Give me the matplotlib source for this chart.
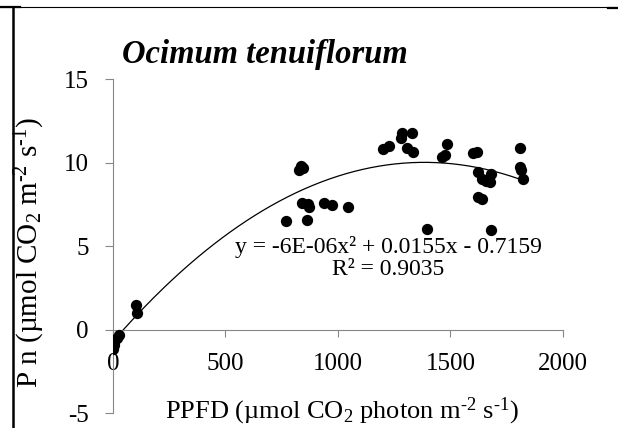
import matplotlib
matplotlib.use("Agg")
import matplotlib.pyplot as plt
import numpy as np
from matplotlib.lines import Line2D

plt.rcParams['font.family'] = ['Liberation Serif', 'DejaVu Serif']
plt.rcParams['mathtext.fontset'] = 'custom'
plt.rcParams['mathtext.rm'] = 'Liberation Serif'
plt.rcParams['mathtext.it'] = 'Liberation Serif:italic'
plt.rcParams['axes.unicode_minus'] = False

# PPFD vs net photosynthesis
ppfd = [0, 3, 5, 18, 25, 102, 105,
        825, 834, 845, 838, 868, 873, 938, 972, 1043, 771, 863,
        1200, 1227, 1283, 1330, 1282, 1305, 1332, 1394,
        1483, 1476, 1461, 1601, 1616, 1624, 1638, 1679, 1676, 1660,
        1624, 1638, 1809, 1809, 1813, 1821, 1680]
pn = [-1.15, -0.95, -0.75, -0.5, -0.35, 1.45, 1.0,
      9.55, 9.78, 9.65, 7.58, 7.54, 7.34, 7.6, 7.48, 7.34, 6.48, 6.54,
      10.8, 10.98, 11.74, 11.74, 11.45, 10.84, 10.64, 6.04,
      11.1, 10.44, 10.34, 10.54, 10.64, 9.44, 9.04, 9.34, 8.84, 8.9,
      7.94, 7.84, 10.84, 9.74, 9.54, 9.04, 5.94]

trend_coef = [-5.6e-06, 0.0155, -0.7159]
eq_text = "y = -6E-06x² + 0.0155x - 0.7159\nR² = 0.9035"

x_ticks = [0, 500, 1000, 1500, 2000]
y_ticks = [-5, 0, 5, 10, 15]

fig = plt.figure(figsize=(6.18, 4.28), dpi=100)
ax = fig.add_axes([0.1828, 0.035, 0.7282, 0.7804])

ax.scatter(ppfd, pn, s=66, color='black', zorder=3, linewidths=0)
xs = np.linspace(min(ppfd), max(ppfd), 200)
ax.plot(xs, np.polyval(trend_coef, xs), color='black', lw=0.9, zorder=2)

ax.set_xlim(0, 2000)
ax.set_ylim(-5, 15)
ax.set_xticks(x_ticks)
ax.set_yticks(y_ticks)

gray = '#878787'
for s in ['top', 'right']:
    ax.spines[s].set_visible(False)
ax.spines['bottom'].set_position(('data', 0))
ax.spines['bottom'].set_color(gray)
ax.spines['left'].set_color(gray)
ax.tick_params(axis='x', direction='out', length=5, color=gray, labelsize=18, pad=12)
ax.tick_params(axis='y', direction='out', length=5.5, color=gray, labelsize=18, pad=12)

fig.text(30 / 618, 1 - 253 / 428,
         r"P n (µmol CO$_2$ m$^{\text{-2}}$ s$^{\text{-1}}$)",
         rotation=90, ha='center', va='center', fontsize=21)
fig.text(342 / 618, 1 - 411 / 428,
         r"PPFD (µmol CO$_2$ photon m$^{\text{-2}}$ s$^{\text{-1}}$)",
         ha='center', va='center', fontsize=19)
fig.text(265 / 618, 1 - 54 / 428, "Ocimum tenuiflorum", ha='center', va='center',
         fontsize=23.5, fontweight='bold', fontstyle='italic')
fig.text(388 / 618, 1 - 258 / 428, eq_text, ha='center', va='center',
         fontsize=17, linespacing=1.1, multialignment='center')

# table cell borders around the figure
fig.add_artist(Line2D([0, 1], [1 - 7 / 428] * 2, color='black', lw=0.8))
fig.add_artist(Line2D([0, 20 / 618], [1 - 7 / 428] * 2, color='black', lw=1.6))
fig.add_artist(Line2D([608 / 618, 1], [1 - 7.5 / 428] * 2, color='black', lw=1.6))
fig.add_artist(Line2D([13 / 618] * 2, [0, 1 - 7 / 428], color='black', lw=1.8))

fig.savefig("out.png", dpi=100)
